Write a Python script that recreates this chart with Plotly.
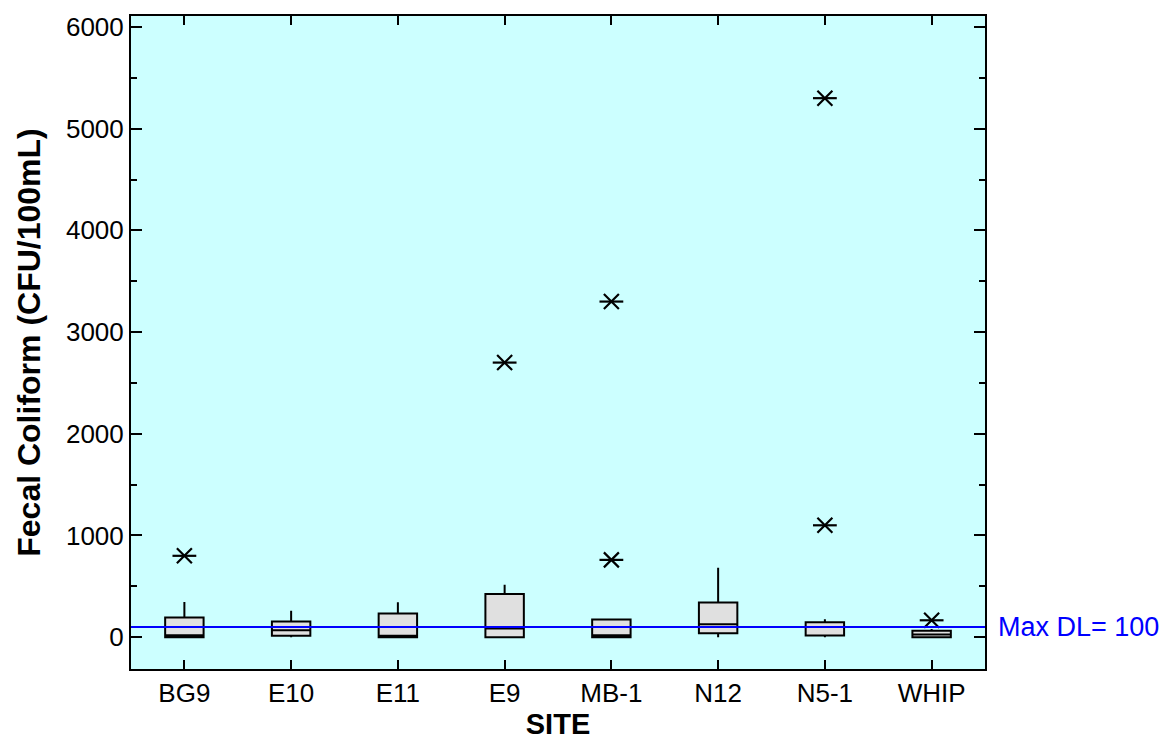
import plotly.graph_objects as go

sites = ["BG9", "E10", "E11", "E9", "MB-1", "N12", "N5-1", "WHIP"]
lower = [0, 0, 0, 0, 0, 0, 0, 0]
q1 = [0, 13, 0, 0, 0, 39, 16, 0]
median = [20, 69, 13, 85, 20, 127, 100, 26]
q3 = [193, 154, 232, 424, 173, 340, 147, 62]
upper = [346, 261, 343, 516, 173, 682, 176, 81]

out_sites = ["BG9", "E9", "MB-1", "MB-1", "N5-1", "N5-1", "WHIP"]
out_vals = [800, 2700, 760, 3300, 1100, 5300, 166]

max_dl = 100

fig = go.Figure()
fig.add_trace(go.Box(
    x=sites, q1=q1, median=median, q3=q3, lowerfence=lower, upperfence=upper,
    fillcolor="#e0e0e0", line=dict(color="black", width=2),
    whiskerwidth=0, width=0.36, boxpoints=False, showlegend=False,
))
for sym, sz in [("x-thin-open", 15), ("line-ew-open", 17)]:
    fig.add_trace(go.Scatter(
        x=out_sites, y=out_vals, mode="markers", showlegend=False,
        marker=dict(symbol=sym, size=sz, color="black",
                    line=dict(color="black", width=2.2)),
    ))

fig.add_shape(type="line", xref="paper", x0=0, x1=1, yref="y", y0=max_dl, y1=max_dl,
              line=dict(color="#0000ff", width=2))
fig.add_annotation(xref="paper", x=1.013, yref="y", y=max_dl, text=f"Max DL= {max_dl}",
                   showarrow=False, xanchor="left",
                   font=dict(family="Liberation Sans, Arial", size=27, color="#0000ff"))

axis_common = dict(showline=True, linecolor="black", linewidth=2, mirror="allticks",
                   ticks="inside", tickcolor="black", tickwidth=2, showgrid=False,
                   zeroline=False,
                   tickfont=dict(family="Liberation Sans, Arial", size=26, color="black"))

fig.update_layout(
    width=1168, height=745,
    margin=dict(l=131, r=183, t=13, b=76),
    paper_bgcolor="white", plot_bgcolor="#ccffff",
    font=dict(family="Liberation Sans, Arial", color="black"),
    xaxis=dict(**axis_common, ticklen=9, range=[-0.5, 7.5], type="category",
               title=dict(text="<b>SITE</b>", font=dict(size=29), standoff=2)),
    yaxis=dict(**axis_common, ticklen=11, range=[-313, 6108], tickvals=[0, 1000, 2000, 3000, 4000, 5000, 6000],
               minor=dict(ticks="inside", ticklen=6, tickwidth=2, tickcolor="black", dtick=500,
                          tick0=0, showgrid=False),
               title=dict(text="<b>Fecal Coliform (CFU/100mL)</b>", font=dict(size=32), standoff=16)),
)

fig.write_html("out.html")
